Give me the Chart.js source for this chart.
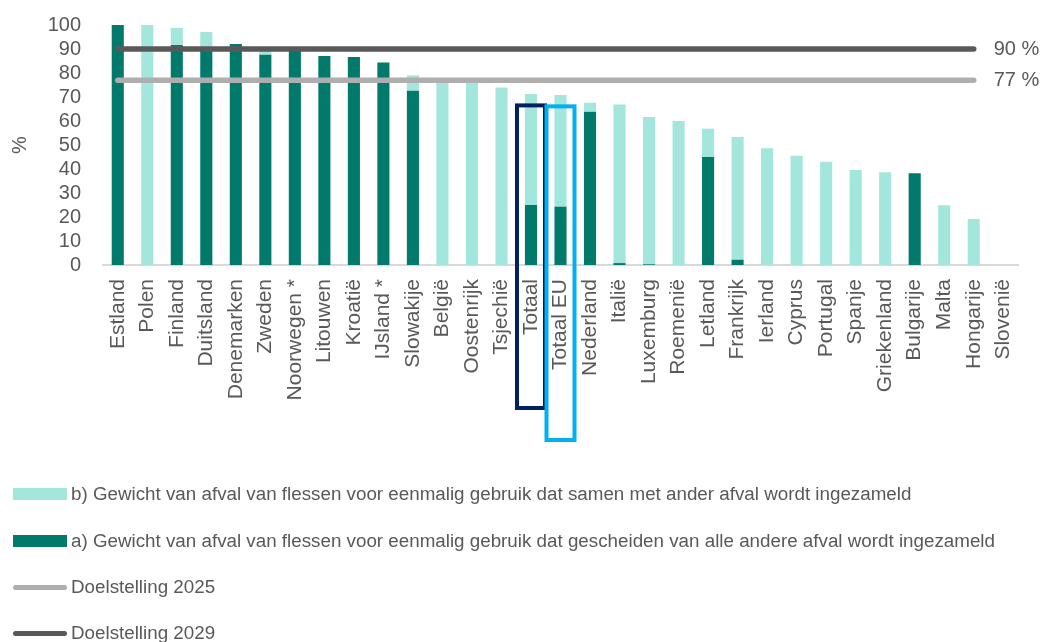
<!DOCTYPE html>
<html>
<head>
<meta charset="utf-8">
<script src="https://cdn.jsdelivr.net/npm/chart.js@4/dist/chart.umd.min.js"></script>
<style>
  body { margin: 0; background: #fff; font-family: "Liberation Sans", Arial, sans-serif; }
  #wrap { position: relative; width: 1040px; height: 470px; }
  #legend { position: absolute; left: 0; top: 0; width: 1040px; height: 642px; pointer-events: none; }
  .item { position: absolute; left: 13px; display: flex; align-items: center; color: #595959; font-size: 18.8px; white-space: nowrap; }
  .swatch { width: 54px; margin-right: 4px; }
</style>
</head>
<body>
<div id="wrap"><canvas id="chart"></canvas></div>
<div id="legend"></div>
<script>
const categories = [
  "Estland", "Polen", "Finland", "Duitsland", "Denemarken", "Zweden", "Noorwegen *",
  "Litouwen", "Kroatië", "IJsland *", "Slowakije", "België", "Oostenrijk", "Tsjechië",
  "Totaal", "Totaal EU", "Nederland", "Italië", "Luxemburg", "Roemenië", "Letland",
  "Frankrijk", "Ierland", "Cyprus", "Portugal", "Spanje", "Griekenland", "Bulgarije",
  "Malta", "Hongarije", "Slovenië",
];

// a) gescheiden ingezameld
const separateCollected = [
  100, 0, 91.7, 89.5, 92.1, 87.6, 89.6, 87.1, 86.7, 84.4, 72.6, 0, 0, 0,
  25, 24.3, 63.9, 0.8, 0.3, 0, 45, 2.2, 0, 0, 0, 0, 0, 38.2, 0, 0, 0,
];

// b) samen met ander afval ingezameld
const mixedCollected = [
  0, 100, 7.1, 7.6, 0, 1.9, 0, 0, 0, 0, 6.4, 77, 76.3, 74,
  46.3, 46.5, 3.7, 66.1, 61.4, 60, 11.8, 51.1, 48.6, 45.5, 43, 39.6, 38.6, 0, 24.9, 19.2, 0,
];

const target2025 = [{ x: "Estland", y: 77 }, { x: "Hongarije", y: 77 }];
const target2029 = [{ x: "Estland", y: 90 }, { x: "Hongarije", y: 90 }];

const yTicks = [0, 10, 20, 30, 40, 50, 60, 70, 80, 90, 100];

const textColor = "#595959";
const darkTeal = "#017A6C";
const lightTeal = "#A3E6DC";
const grey2025 = "#AEAEAE";
const grey2029 = "#595959";
const fontFamily = '"Liberation Sans", Arial, sans-serif';

const highlightBoxes = [
  { category: "Totaal", top: 66.5, depth: 143, color: "#002060" },
  { category: "Totaal EU", top: 66.1, depth: 175, color: "#00B0F0" },
];

const decorations = {
  id: "decorations",
  afterDatasetsDraw(chart) {
    const { ctx, scales } = chart;
    const x = scales.x;
    const y = scales.y;

    // end labels of the target lines
    chart.data.datasets.forEach((dataset, i) => {
      if (dataset.type !== "line") {
        return;
      }
      const points = chart.getDatasetMeta(i).data;
      const last = points[points.length - 1];
      ctx.save();
      ctx.fillStyle = textColor;
      ctx.font = `20px ${fontFamily}`;
      ctx.textBaseline = "middle";
      ctx.textAlign = "left";
      ctx.fillText(`${dataset.data[dataset.data.length - 1].y} %`, last.x + 20, last.y);
      ctx.restore();
    });

    // frames around the totals
    highlightBoxes.forEach((box) => {
      const cx = x.getPixelForValue(categories.indexOf(box.category));
      const top = y.getPixelForValue(box.top);
      const bottom = y.getPixelForValue(0) + box.depth;
      ctx.save();
      ctx.strokeStyle = box.color;
      ctx.lineWidth = 4;
      ctx.strokeRect(cx - 14, top, 28, bottom - top);
      ctx.restore();
    });
  },
};

new Chart(document.getElementById("chart"), {
  type: "bar",
  data: {
    labels: categories,
    datasets: [
      {
        type: "line",
        label: "Doelstelling 2029",
        data: target2029,
        borderColor: grey2029,
        borderWidth: 5.5,
        borderCapStyle: "round",
        pointRadius: 0,
        stack: "t2029",
        order: 0,
      },
      {
        type: "line",
        label: "Doelstelling 2025",
        data: target2025,
        borderColor: grey2025,
        borderWidth: 5.5,
        borderCapStyle: "round",
        pointRadius: 0,
        stack: "t2025",
        order: 0,
      },
      {
        label: "a) Gewicht van afval van flessen voor eenmalig gebruik dat gescheiden van alle andere afval wordt ingezameld",
        data: separateCollected,
        backgroundColor: darkTeal,
        stack: "bars",
        order: 1,
      },
      {
        label: "b) Gewicht van afval van flessen voor eenmalig gebruik dat samen met ander afval wordt ingezameld",
        data: mixedCollected,
        backgroundColor: lightTeal,
        stack: "bars",
        order: 1,
      },
    ],
  },
  options: {
    animation: false,
    maintainAspectRatio: false,
    responsive: true,
    barPercentage: 0.41,
    categoryPercentage: 1,
    layout: {
      padding: { top: 25, right: 22, bottom: 0, left: 0 },
    },
    plugins: {
      legend: { display: false },
      tooltip: { enabled: false },
    },
    scales: {
      x: {
        stacked: true,
        grid: { display: false, drawTicks: false },
        border: { color: "#D9D9D9", width: 2 },
        ticks: {
          color: textColor,
          font: { family: fontFamily, size: 21 },
          minRotation: 90,
          maxRotation: 90,
          autoSkip: false,
          padding: 14,
        },
        afterFit: (scale) => {
          scale.height = 205;
          scale.paddingLeft = 0;
          scale.paddingRight = 0;
        },
      },
      y: {
        stacked: true,
        min: 0,
        max: 100,
        grid: { display: false, drawTicks: false },
        border: { display: false },
        afterBuildTicks: (scale) => {
          scale.ticks = yTicks.map((value) => ({ value }));
        },
        ticks: {
          color: textColor,
          font: { family: fontFamily, size: 20 },
          autoSkip: false,
          padding: 22,
        },
        title: {
          display: true,
          text: "%",
          color: textColor,
          font: { family: fontFamily, size: 20 },
          padding: { top: 8, bottom: 0 },
        },
        afterFit: (scale) => {
          scale.width = 103;
          scale.paddingTop = 0;
          scale.paddingBottom = 0;
        },
      },
    },
  },
  plugins: [decorations],
});

// legend below the chart
const legendItems = [
  { label: "b) Gewicht van afval van flessen voor eenmalig gebruik dat samen met ander afval wordt ingezameld", color: lightTeal, kind: "box", top: 494 },
  { label: "a) Gewicht van afval van flessen voor eenmalig gebruik dat gescheiden van alle andere afval wordt ingezameld", color: darkTeal, kind: "box", top: 541 },
  { label: "Doelstelling 2025", color: grey2025, kind: "line", top: 587 },
  { label: "Doelstelling 2029", color: grey2029, kind: "line", top: 633 },
];

const legend = document.getElementById("legend");
legendItems.forEach((item) => {
  const row = document.createElement("div");
  row.className = "item";
  row.style.top = `${item.top - 12}px`;
  row.style.height = "24px";
  const swatch = document.createElement("span");
  swatch.className = "swatch";
  swatch.style.background = item.color;
  swatch.style.height = item.kind === "box" ? "12px" : "5px";
  swatch.style.borderRadius = item.kind === "box" ? "0" : "3px";
  const text = document.createElement("span");
  text.textContent = item.label;
  row.append(swatch, text);
  legend.append(row);
});
</script>
</body>
</html>
